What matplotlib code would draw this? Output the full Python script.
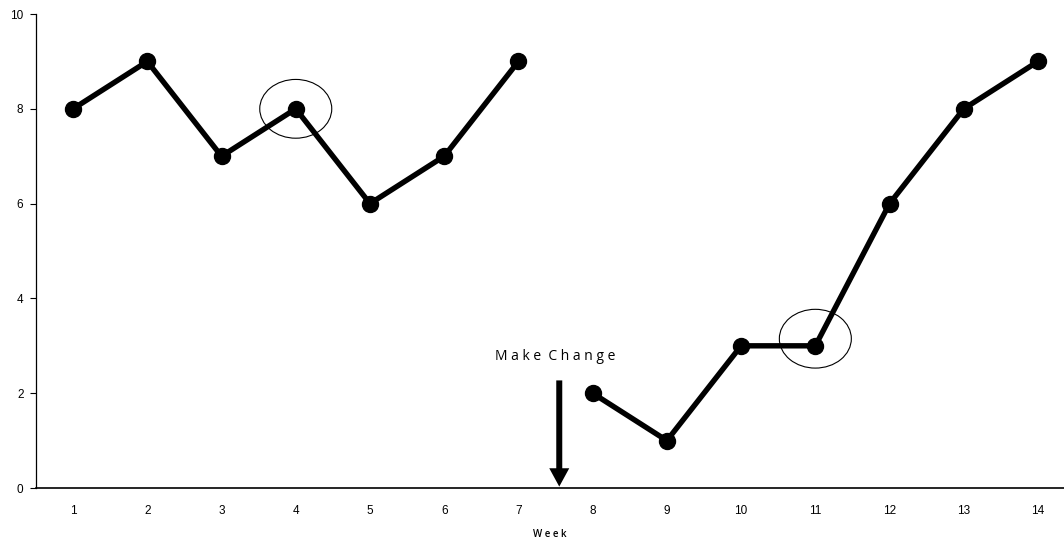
import matplotlib.pyplot as plt
from matplotlib.patches import Ellipse

# data
weeksBefore = [1, 2, 3, 4, 5, 6, 7]
valuesBefore = [8, 9, 7, 8, 6, 7, 9]
weeksAfter = [8, 9, 10, 11, 12, 13, 14]
valuesAfter = [2, 1, 3, 3, 6, 8, 9]
circledPoints = [(4, 8), (11, 3.15)]
changeWeek = 7.55

plt.rcParams['font.family'] = 'Liberation Sans'

fig = plt.figure(figsize=(10.64, 5.39), dpi=100)
ax = fig.add_axes([0.0338, 0.0946, 0.9662, 0.8794])

for weeks, values in [(weeksBefore, valuesBefore), (weeksAfter, valuesAfter)]:
    ax.plot(weeks, values, color='black', linewidth=3.9, marker='o', markersize=11.5,
            solid_capstyle='round')

for x, y in circledPoints:
    ax.add_patch(Ellipse((x, y), 0.97, 1.24, fill=False, edgecolor='black', linewidth=0.8))

# arrow marking the change
ax.annotate('', xy=(changeWeek, 0.03), xytext=(changeWeek, 2.27),
            arrowprops=dict(arrowstyle='simple,head_length=1.1,head_width=1.2,tail_width=0.36',
                            mutation_scale=12, color='black', linewidth=0,
                            shrinkA=0, shrinkB=0))
ax.text(changeWeek - 0.05, 2.78, 'M a k e  C h a n g e', ha='center', va='center',
        fontsize=10, family='Open Sans')

ax.set_xlim(0.5, 14.35)
ax.set_ylim(0, 10)
ax.set_xticks(range(1, 15))
ax.set_yticks(range(0, 11, 2))
ax.tick_params(axis='x', length=0, labelsize=8.5, pad=12)
ax.tick_params(axis='y', length=4, labelsize=8.5, pad=5)
ax.spines['top'].set_visible(False)
ax.spines['right'].set_visible(False)
ax.spines['left'].set_linewidth(0.9)
ax.spines['bottom'].set_linewidth(1.2)
ax.set_xlabel('W e e k', fontsize=7, family='Open Sans', fontweight='semibold', labelpad=9)

fig.savefig('out.png', dpi=100)
